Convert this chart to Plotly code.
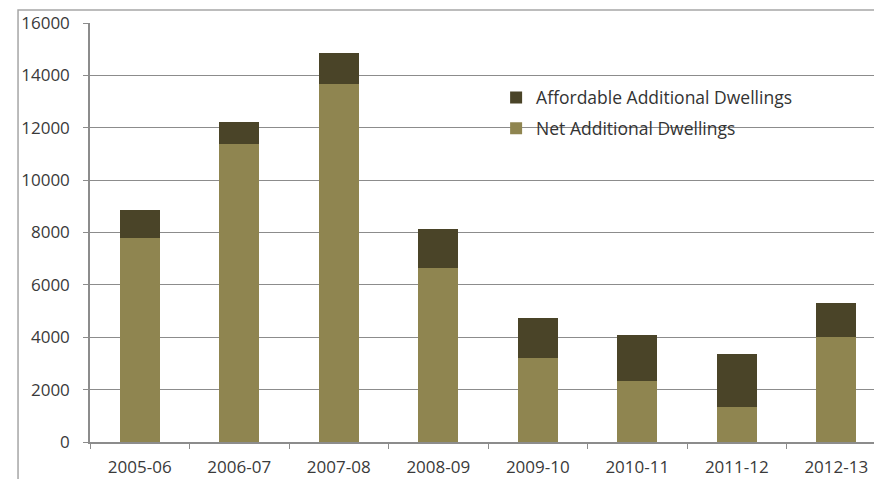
import plotly.graph_objects as go

categories = ["2005-06", "2006-07", "2007-08", "2008-09", "2009-10", "2010-11", "2011-12", "2012-13"]
net_additional = [7780, 11380, 13670, 6660, 3220, 2340, 1320, 4000]
affordable_additional = [1070, 830, 1180, 1460, 1500, 1750, 2030, 1310]

NET_COLOR = "#8f8550"
AFF_COLOR = "#4a4428"
GRID = "#8c8c8c"
TEXT = "#3a3a3a"
FONT = "Open Sans"

fig = go.Figure()
fig.add_trace(go.Bar(name="Net Additional Dwellings", x=categories, y=net_additional,
                     marker=dict(color=NET_COLOR, line=dict(width=0)), width=0.4,
                     legendgroup="net", legendrank=2))
fig.add_trace(go.Bar(name="Affordable Additional Dwellings", x=categories, y=affordable_additional,
                     marker=dict(color=AFF_COLOR, line=dict(width=0)), width=0.4,
                     legendgroup="aff", legendrank=1))

fig.update_layout(
    barmode="stack",
    width=874, height=479,
    margin=dict(l=90, r=0, t=23, b=37, autoexpand=False),
    paper_bgcolor="white", plot_bgcolor="white",
    font=dict(family=FONT, size=17, color=TEXT),
    legend=dict(x=0.518, y=0.865, xanchor="left", yanchor="top",
                bgcolor="rgba(0,0,0,0)", traceorder="grouped",
                tracegroupgap=5, font=dict(size=17.5, color="#333333")),
    xaxis=dict(type="category", range=[-0.5, 7.379], showgrid=False,
               showline=True, linecolor=GRID, linewidth=1.5,
               ticks="outside", ticklen=5, tickcolor=GRID, tickson="boundaries",
               tickfont=dict(size=17, color=TEXT), automargin=False, ticklabelstandoff=9),
    yaxis=dict(range=[0, 16000], dtick=2000, tickformat="d", showgrid=True, gridcolor=GRID, gridwidth=1,
               showline=True, linecolor=GRID, linewidth=1.5, zeroline=False,
               ticks="outside", ticklen=5, tickcolor=GRID, automargin=False,
               tickfont=dict(size=17, color=TEXT), ticklabelstandoff=10),
)

fig.add_shape(type="rect", xref="paper", yref="paper",
              x0=-0.0918, x1=1.2, y0=-0.3, y1=1.031,
              line=dict(color="#a6a6a6", width=1.5), fillcolor="rgba(0,0,0,0)", layer="below")

fig.write_html("out.html", config={"displayModeBar": False},
               post_script="document.body.style.margin='0px';document.body.style.overflow='hidden';")
